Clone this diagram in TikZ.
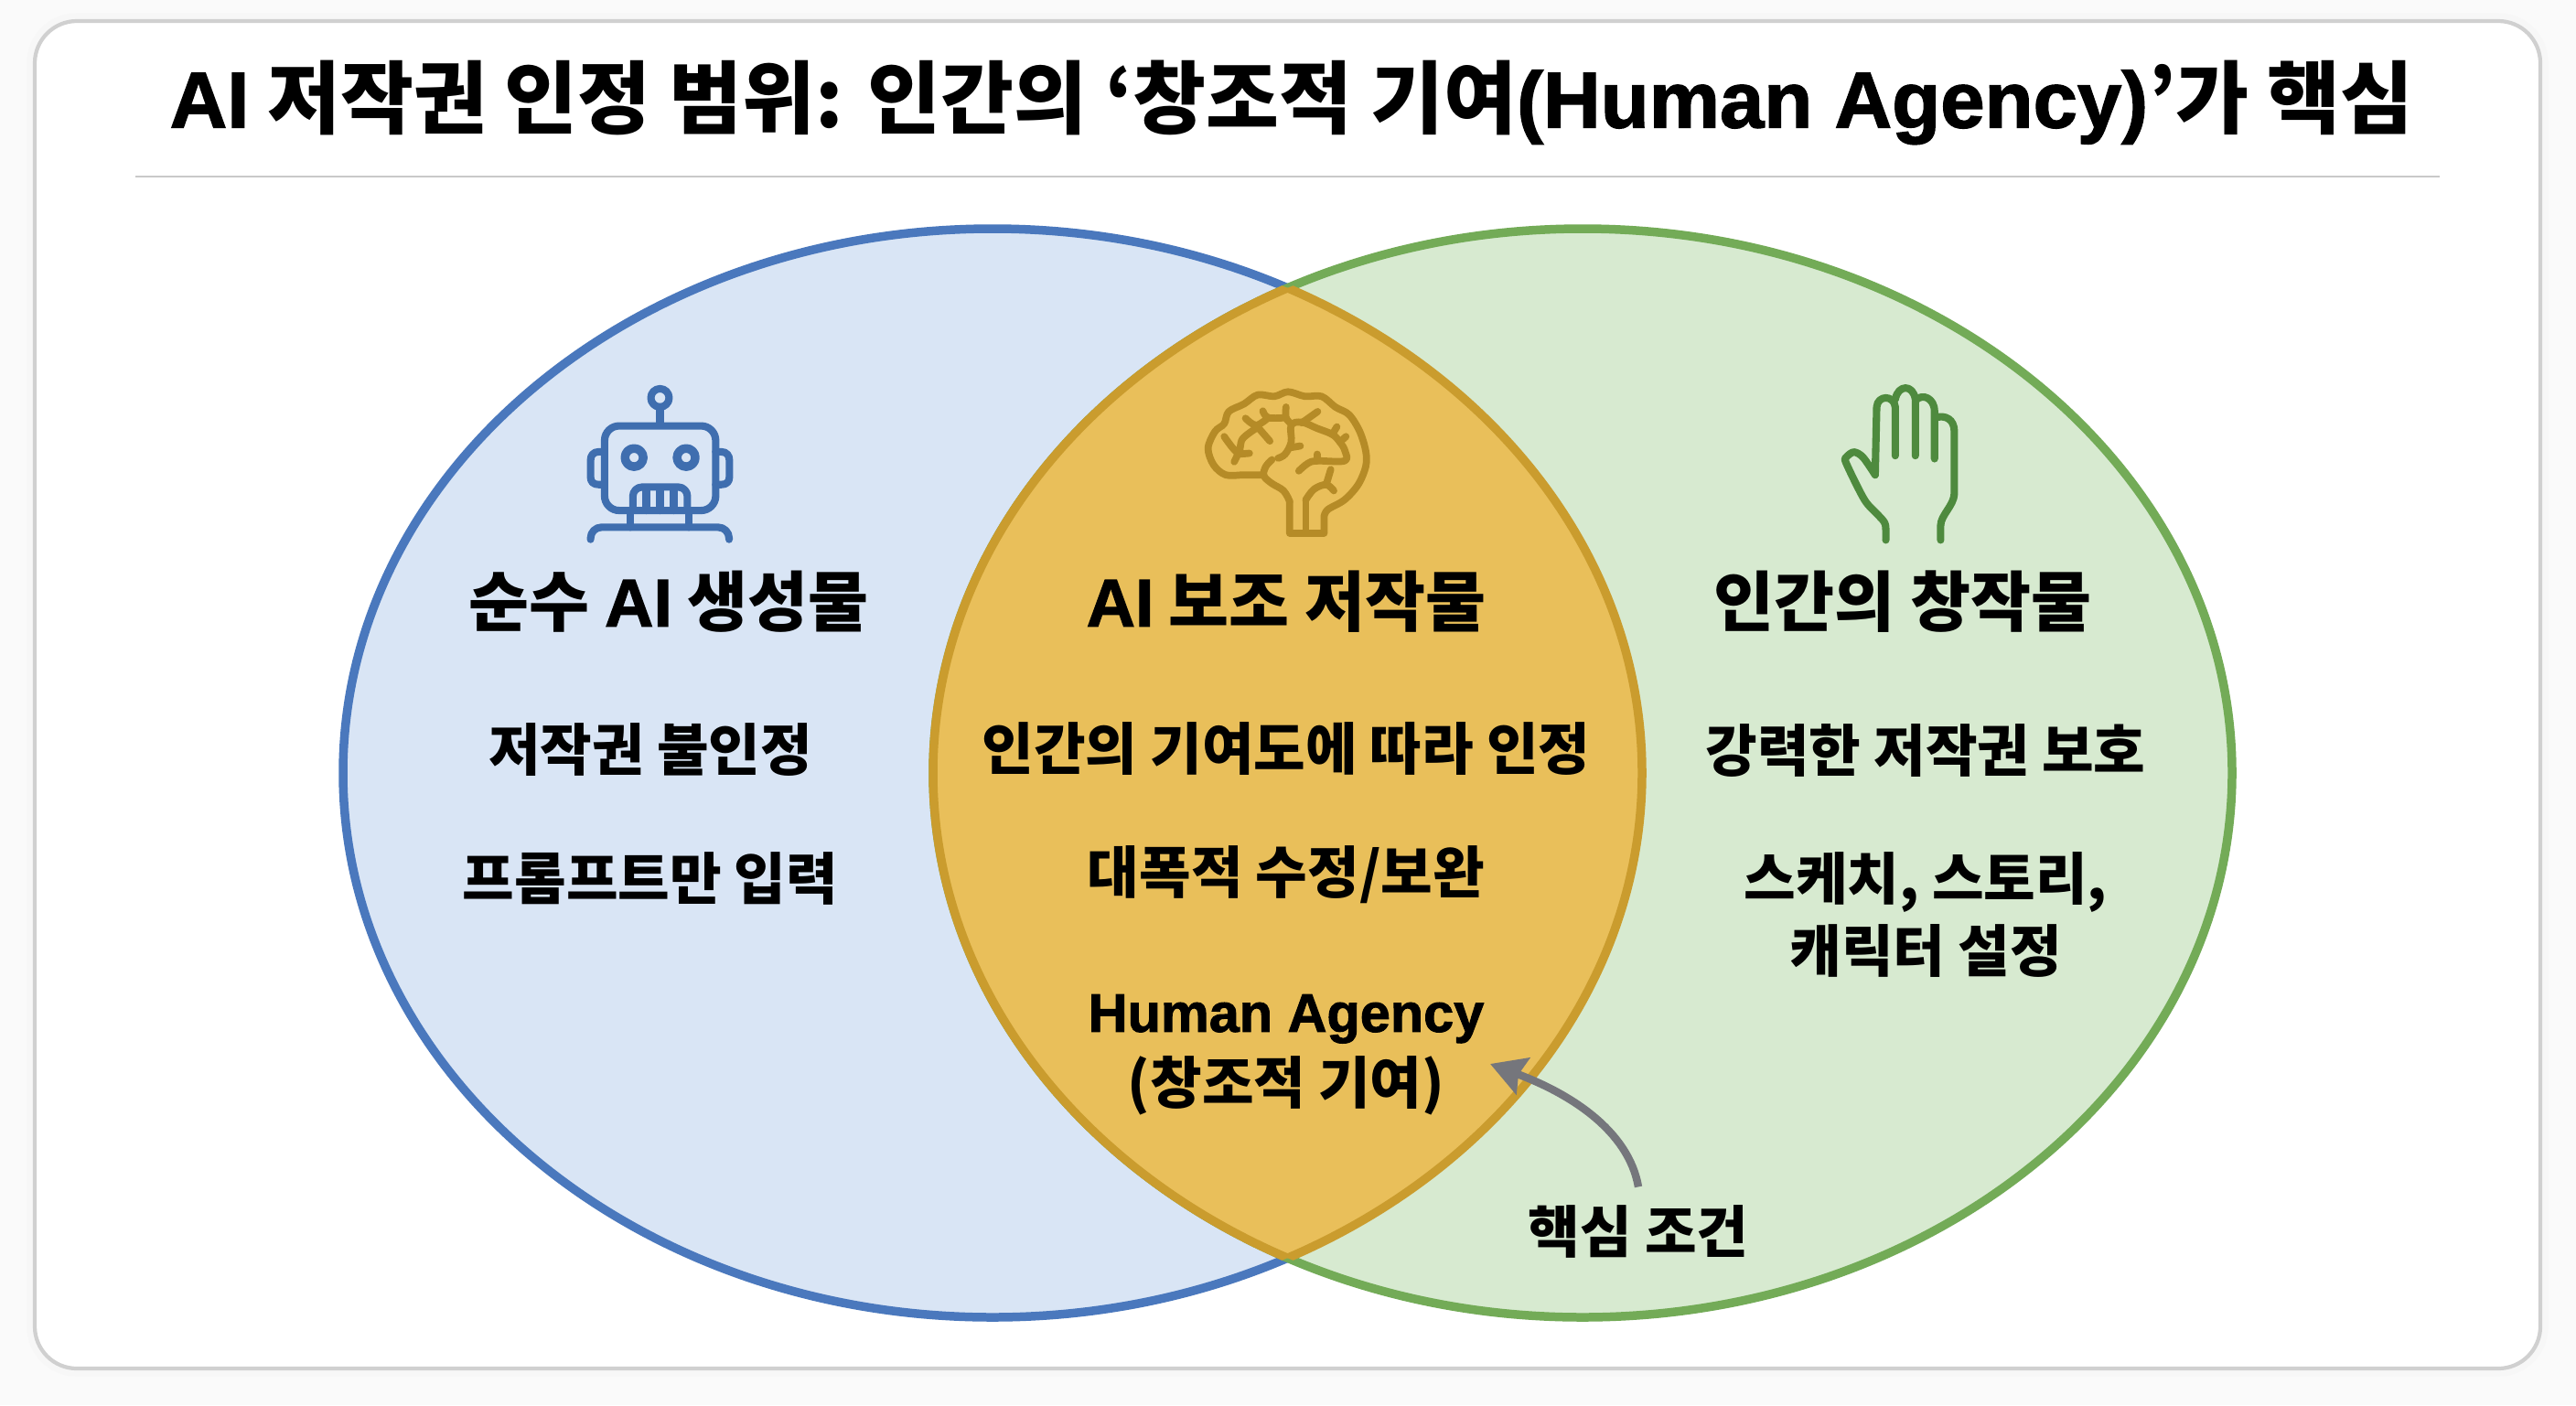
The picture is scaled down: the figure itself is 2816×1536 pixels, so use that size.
\documentclass[tikz,border=0pt]{standalone}
\usepackage{fontspec}
\setmainfont{Noto Sans CJK KR}
\newfontfamily\latfont[FakeBold=1.6]{Liberation Sans}
\usetikzlibrary{arrows.meta}
\definecolor{pageback}{HTML}{FAFAFA}
\definecolor{cardline}{HTML}{D0D0D0}
\definecolor{ruleline}{HTML}{C9C9C9}
\definecolor{aifill}{HTML}{D9E5F5}
\definecolor{ailine}{HTML}{4A78BD}
\definecolor{humanfill}{HTML}{D7EAD0}
\definecolor{humanline}{HTML}{73AB57}
\definecolor{lensfill}{HTML}{E9BF5A}
\definecolor{lensline}{HTML}{CA9C2E}
\definecolor{roboticon}{HTML}{3F6EAF}
\definecolor{brainicon}{HTML}{B58B27}
\definecolor{handicon}{HTML}{4E8A3E}
\definecolor{arrowgray}{HTML}{75767C}
\begin{document}
\begin{tikzpicture}[x=0.01cm,y=-0.01cm,
        titletext/.style={font=\fontsize{24.7}{30}\selectfont\bfseries,text=black,inner sep=0pt},
        headtext/.style={font=\fontsize{20.4}{24}\selectfont\bfseries,text=black,inner sep=0pt},
        bodytext/.style={font=\fontsize{17.5}{22.3}\selectfont\bfseries,text=black,inner sep=0pt,align=center},
        icon/.style={line width=2.3pt,line cap=round,line join=round}]
    \useasboundingbox (0,0) rectangle (2816,1536);
    \fill[pageback] (0,0) rectangle (2816,1536);

    % card
    \draw[black!3,line width=5pt,rounded corners=0.46cm] (38,23) rectangle (2777,1496);
    \draw[cardline,fill=white,line width=1.2pt,rounded corners=0.46cm] (38,23) rectangle (2777,1496);

    % title
    \node[titletext] (title) at (1412,112) {{\latfont AI} 저작권 인정 범위: 인간의 ‘창조적 기여{\latfont (Human Agency)}’가 핵심};
    \coordinate (ruleL) at (148,193);
    \coordinate (ruleR) at (2667,193);
    \draw[ruleline,line width=0.7pt] (ruleL) -- (ruleR);

    % circles
    \def\aicircle{(1085,845) ellipse [x radius=710,y radius=595]}
    \def\humancircle{(1730,845) ellipse [x radius=710,y radius=595]}
    \draw[ailine,fill=aifill,line width=2.7pt] \aicircle;
    \draw[humanline,fill=humanfill,line width=2.7pt] \humancircle;
    \begin{scope}
        \clip \aicircle;
        \fill[lensfill] \humancircle;
        \draw[lensline,line width=2.7pt] \humancircle;
    \end{scope}
    \begin{scope}
        \clip \humancircle;
        \draw[lensline,line width=2.7pt] \aicircle;
    \end{scope}

    % robot
    \begin{scope}[shift={(600,390)},x=0.00333cm,y=-0.00333cm,icon,draw=roboticon]
        \draw (365,135) circle [radius=30];
        \draw (365,165) -- (365,225);
        \draw[rounded corners=0.16cm] (183,227) rectangle (548,505);
        \draw[line width=2.7pt] (280,331) circle [radius=30];
        \draw[line width=2.7pt] (451,331) circle [radius=30];
        \draw (183,312) -- (165,312) .. controls (145,312) and (137,325) .. (137,340) -- (137,395) .. controls (137,410) and (145,420) .. (165,420) -- (183,420);
        \draw (548,312) -- (565,312) .. controls (585,312) and (593,325) .. (593,340) -- (593,395) .. controls (593,410) and (585,420) .. (565,420) -- (548,420);
        \draw[rounded corners=0.1cm] (276,505) -- (276,428) -- (455,428) -- (455,505);
        \foreach \toothx in {320,365,410}
            \draw (\toothx,430) -- (\toothx,505);
        \draw (268,505) -- (268,560);
        \draw (460,505) -- (460,560);
        \draw[rounded corners=0.12cm] (137,600) -- (137,560) -- (592,560) -- (592,600);
    \end{scope}

    % brain
    \begin{scope}[shift={(1280,400)},x=0.00333cm,y=-0.00333cm,icon,draw=brainicon,line width=2.2pt]
        \draw plot[smooth,tension=0.55] coordinates {(305,358) (240,358) (180,358) (140,325) (122,270) (145,215) (175,190) (190,150) (240,125) (285,95) (340,100) (385,85) (440,100) (495,100) (540,135) (585,160) (620,215) (640,280) (640,330) (615,390) (570,440) (515,472) (503,495)} -- (503,550) -- (390,550) -- (390,445);
        \draw plot[smooth,tension=0.6] coordinates {(390,445) (370,410) (330,385) (305,360) (312,330) (332,308)};
        \draw (443,550) -- (443,440);
        \draw plot[smooth,tension=0.6] coordinates {(443,440) (470,405) (510,390) (535,410)};
        \draw (510,390) -- (525,340);
        \draw plot[smooth,tension=0.6] coordinates {(420,345) (450,320) (480,312) (570,312) (572,280) (555,250) (530,225) (480,205) (430,185) (395,195) (395,250) (375,290) (352,303)};
        \draw (395,268) -- (425,263);
        \draw (430,187) -- (482,150);
        \draw (530,225) -- (545,200);
        \draw (555,250) -- (575,232);
        \draw (480,290) -- (480,312);
        \draw plot[smooth,tension=0.6] coordinates {(395,190) (378,170) (378,135)};
        \draw plot[smooth,tension=0.6] coordinates {(378,170) (320,170) (302,148)};
        \draw plot[smooth,tension=0.6] coordinates {(320,170) (280,195) (245,172)};
        \draw (280,195) -- (325,247);
        \draw plot[smooth,tension=0.6] coordinates {(280,205) (235,240) (220,285) (175,232)};
        \draw (220,290) -- (258,287);
        \draw (220,290) -- (208,315);
    \end{scope}

    % hand
    \begin{scope}[shift={(1960,400)},x=0.00333cm,y=-0.00333cm,icon,draw=handicon]
        \draw plot[smooth,tension=0.5] coordinates {(305,572) (303,520) (280,490) (235,440) (175,320) (175,300) (200,283) (230,300) (270,358)};
        \draw (270,358) -- (275,135) .. controls (278,95) and (332,95) .. (336,135) -- (336,295);
        \draw (336,110) .. controls (345,60) and (395,60) .. (402,110) -- (402,295);
        \draw (404,112) .. controls (425,90) and (465,105) .. (465,150) -- (465,305);
        \draw (468,170) .. controls (500,160) and (530,175) .. (530,215) -- (530,420) .. controls (528,460) and (485,490) .. (485,525) -- (485,572);
    \end{scope}

    % left circle
    \node[headtext] (aihead) at (731,658) {순수 {\latfont\fontsize{21}{24}\selectfont AI} 생성물};
    \node[bodytext] (ainone) at (711,819) {저작권 불인정};
    \node[bodytext] (aiprompt) at (711,960) {프롬프트만 입력};

    % middle
    \node[headtext] (lenshead) at (1406,658) {{\latfont\fontsize{21}{24}\selectfont AI} 보조 저작물};
    \node[bodytext] (lenscontrib) at (1406,818) {인간의 기여도에 따라 인정};
    \node[bodytext] (lensedit) at (1406,956) {대폭적 수정/보완};
    \node[bodytext] (lensagency) at (1406,1153) {{\latfont\fontsize{16.9}{21}\selectfont Human Agency}\\(창조적 기여)};

    % right circle
    \node[headtext] (humanhead) at (2080,658) {인간의 창작물};
    \node[bodytext] (humanprotect) at (2105,820) {강력한 저작권 보호};
    \node[bodytext] (humansketch) at (2105,1000) {스케치, 스토리,\\캐릭터 설정};

    % key condition
    \node[bodytext] (keynote) at (1791,1346) {핵심 조건};
    \coordinate (keytip) at (1629,1163);
    \draw[-{Stealth[length=0.38cm,width=0.42cm,inset=0.05cm]},arrowgray,line width=2.4pt] (keynote.north) ++(0,-19) .. controls (1780,1235) and (1715,1195) .. (keytip);
\end{tikzpicture}
\end{document}
